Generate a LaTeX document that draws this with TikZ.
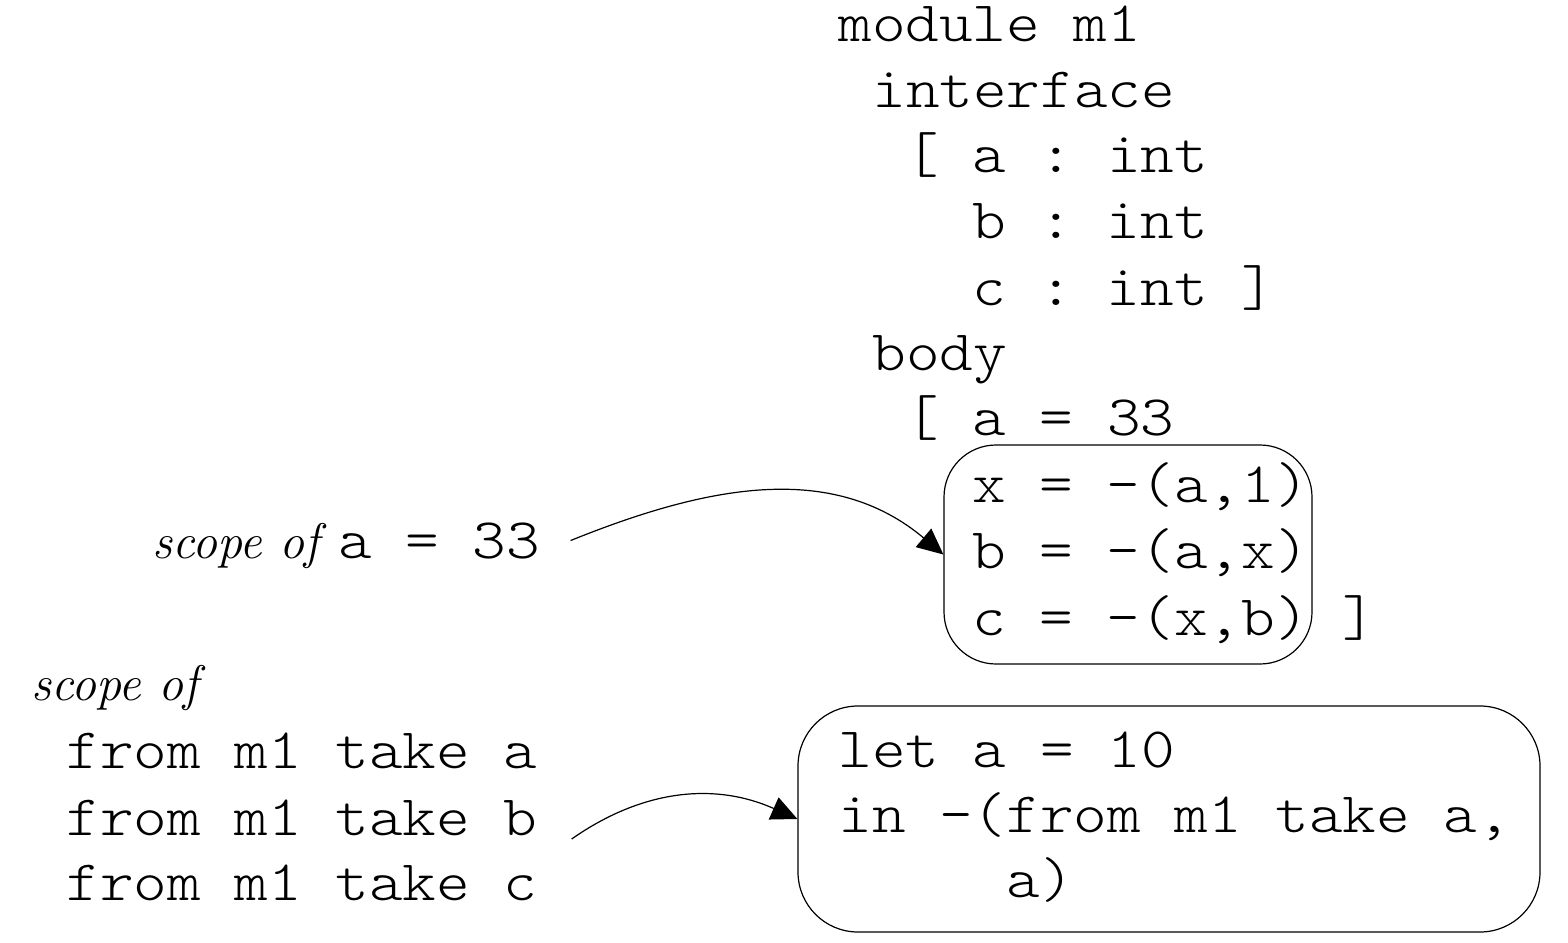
\documentclass[tikz,border=0pt]{standalone}
\usepackage{fontspec}
\setmonofont[FakeStretch=1.12]{lmmonolt10-regular.otf}
\usetikzlibrary{arrows.meta}
\tikzset{
  codeline/.style={anchor=base west,inner sep=0pt,font=\fontsize{28.6}{33}\selectfont\ttfamily},
  scopelabel/.style={anchor=base west,inner sep=0pt,font=\fontsize{25}{30}\selectfont\itshape},
  scopebox/.style={draw,rounded corners=26pt,inner sep=0pt,line width=0.6pt},
  scopearrow/.style={-{Triangle[length=13pt,width=12pt]},line width=0.6pt}
}

\begin{document}
\begin{tikzpicture}[x=0.5pt,y=-0.5pt]
\useasboundingbox (0,0) rectangle (1568,942);
% module text
\node[codeline] (mod)   at (838,41)  {module m1};
\node[codeline] (intf)  at (872,107) {interface};
\node[codeline] (ia)    at (905,172) {[ a : int};
\node[codeline] (ib)    at (972,238) {b : int};
\node[codeline] (ic)    at (972,305) {c : int ]};
\node[codeline] (body)  at (872,370) {body};
\node[codeline] (ba)    at (905,435) {[ a = 33};
\node[codeline] (bx)    at (972,502) {x = -(a,1)};
\node[codeline] (bb)    at (972,568) {b = -(a,x)};
\node[codeline] (bc)    at (972,635) {c = -(x,b) ]};
\node[scopebox,minimum width=184pt,minimum height=109.5pt] (bodybox) at (1128,554.5) {};
% let expression
\node[codeline] (let)   at (838,767) {let a = 10};
\node[codeline] (in)    at (838,832) {in -(from m1 take a,};
\node[codeline] (inend) at (1006,897) {a)};
\node[scopebox,rounded corners=30pt,minimum width=371pt,minimum height=113pt] (letbox) at (1169,819) {};
% scope labels
\node[scopelabel] (scopea) at (152,558) {scope of};
\node[codeline] (scopeacode) at (338,558) {a = 33};
\node[scopelabel] (scopeof) at (31,700) {scope of};
\node[codeline] (takea) at (66,768) {from m1 take a};
\node[codeline] (takeb) at (66,835) {from m1 take b};
\node[codeline] (takec) at (66,900) {from m1 take c};
% arrows
\draw[scopearrow] ([xshift=15pt]scopeacode.east) to[out=22,in=140] (bodybox.west);
\draw[scopearrow] ([xshift=17pt,yshift=-2pt]takeb.base east) to[out=35,in=156] (letbox.west);
\end{tikzpicture}
\end{document}
